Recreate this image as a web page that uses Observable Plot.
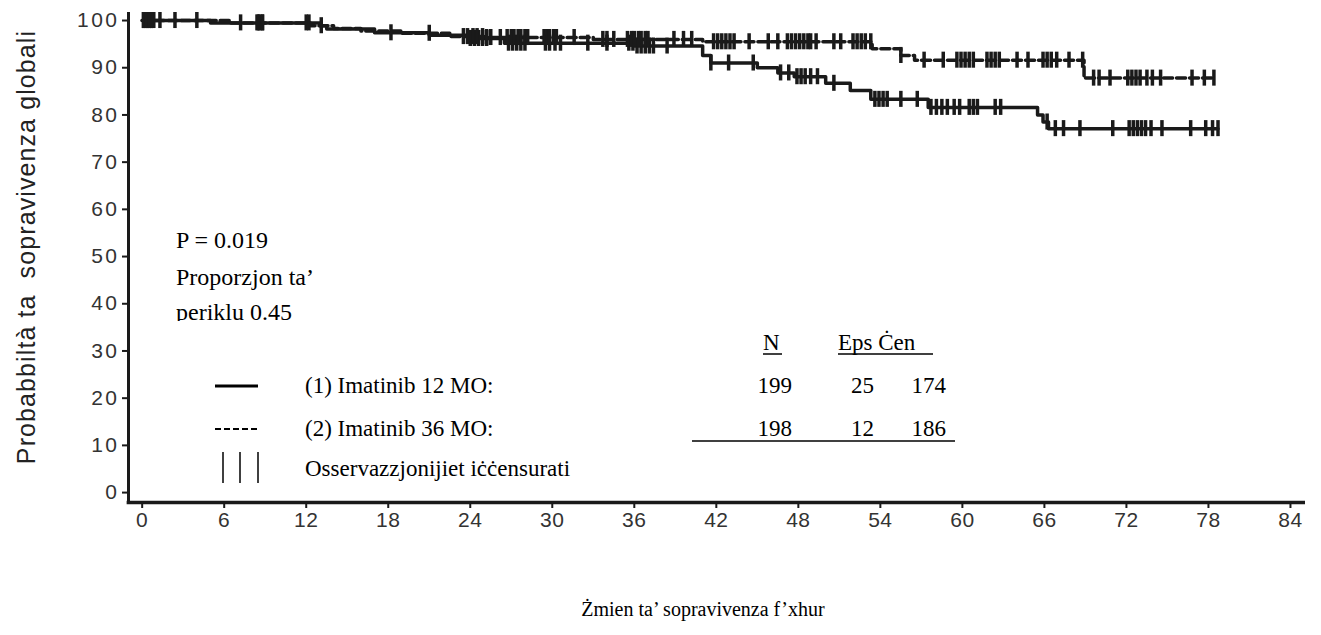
<!DOCTYPE html>
<html><head><meta charset="utf-8">
<script src="https://cdn.jsdelivr.net/npm/d3@7"></script>
<script src="https://cdn.jsdelivr.net/npm/@observablehq/plot@0.6"></script>
<style>
body{margin:0;background:#fff}
#chart{position:relative;width:1321px;height:635px}
#chart svg [aria-label="y-axis tick label"] text{letter-spacing:2.5px}
#chart svg [aria-label="x-axis tick label"] text{letter-spacing:0.5px}
</style>
</head><body><div id="chart"></div>
<script>
// Kaplan-Meier step points (time in months, survival %)
const times12 = [0, 5, 13, 13.5, 17, 21, 24, 26.5, 36, 41, 41.6, 45, 46.5, 47.7, 50, 51.8, 53.3, 57.5, 65.5, 65.9, 66.3];
const surv12  = [100, 99.5, 98.9, 98.2, 97.4, 96.9, 96.2, 95.2, 94.6, 92.6, 91.0, 90.0, 88.9, 88.1, 86.7, 85.2, 83.3, 81.6, 80.0, 78.5, 77.1];
const end12 = 78.7;
const times36 = [0, 6.5, 12.3, 14, 16, 19, 22.5, 25, 33, 41, 53.4, 55.5, 56.5, 68.9];
const surv36  = [100, 99.5, 98.9, 98.3, 97.8, 97.3, 96.6, 96.4, 96.0, 95.5, 94.0, 92.6, 91.6, 87.8];
const end36 = 78.5;
// censored observation times
const cens12 = [0.1,0.25,0.4,0.55,0.7,0.85,1.3,4,8.5,8.8,12.2,18.2,24,24.3,24.6,24.9,25.2,26.8,27.1,27.4,27.7,28,29.5,29.8,30.2,30.6,32.6,34,35.6,35.9,36.2,36.5,36.8,37.1,37.4,38.4,41.6,42.9,44.7,46.7,47.3,47.9,48.2,48.5,48.9,49.4,50.6,53.6,53.9,54.2,54.5,55.5,56.7,57.7,58.1,58.5,58.9,59.4,59.8,60.5,60.8,61.1,62.4,62.8,66.2,66.8,67.4,68.6,71,72.2,72.5,72.8,73.1,73.4,73.8,74.6,76.7,77.8,78.3,78.7];
const cens36 = [0.1,0.3,0.5,0.7,2.4,7.2,8.4,8.6,8.8,12.0,13.1,21,23.5,23.8,24.2,24.5,24.9,25.2,25.5,26.2,26.7,27.0,27.2,27.5,27.7,28.0,28.2,29.4,29.6,29.8,30.1,30.3,31.6,33.7,34.0,34.5,35.5,35.8,36,36.3,36.5,36.8,37,38.9,39.6,40.2,41.8,42.1,42.4,42.7,43,43.3,44.4,45.8,46.5,47.2,47.5,47.8,48.1,48.4,48.7,48.9,49.3,50.6,51.1,52,52.3,52.6,52.9,53.3,55.5,57.2,58.6,59.6,59.9,60.2,60.5,60.8,61.8,62.1,62.4,62.7,64,64.8,65.9,66.2,66.5,66.9,67.8,68.8,69.6,70,70.8,72.1,72.4,72.7,73,73.5,73.9,74.5,76.8,77.7,78.4];
const xTicks = [0,6,12,18,24,30,36,42,48,54,60,66,72,78,84];
const yTicks = [0,10,20,30,40,50,60,70,80,90,100];

const steps = (T, S, end) => T.map((t, i) => ({t, s: S[i]})).concat([{t: end, s: S[S.length - 1]}]);
const surv = (T, S) => t => { let v = S[0]; for (let i = 0; i < T.length; i++) if (T[i] <= t) v = S[i]; return v; };
const S12 = surv(times12, surv12), S36 = surv(times36, surv36);
const ink = "#1a1a1a";
const tickH = 1.7;

const plot = Plot.plot({
  width: 1321, height: 635,
  marginLeft: 128, marginRight: 16, marginTop: 12, marginBottom: 133,
  x: {domain: [-1, 85.1]},
  y: {domain: [-2.1, 101.7]},
  style: {background: "white", fontFamily: "Arial, 'Liberation Sans', sans-serif"},
  marks: [
    Plot.axisY({ticks: yTicks, tickSize: 6, tickPadding: 3, fontSize: 21, label: null, stroke: ink, strokeWidth: 2, fill: "#333"}),
    Plot.axisX({ticks: xTicks, tickSize: 6, tickPadding: 4, fontSize: 21, label: null, stroke: ink, strokeWidth: 2, fill: "#333"}),
    Plot.ruleX([-1], {y1: -2.1, y2: 101.7, stroke: ink, strokeWidth: 3}),
    Plot.ruleY([-2.1], {x1: -1.1, x2: 85.1, stroke: ink, strokeWidth: 3.5}),
    Plot.line(steps(times12, surv12, end12), {x: "t", y: "s", curve: "step-after", stroke: ink, strokeWidth: 3.5}),
    Plot.line(steps(times36, surv36, end36), {x: "t", y: "s", curve: "step-after", stroke: ink, strokeWidth: 3.5, strokeDasharray: "9,4"}),
    Plot.ruleX(cens12, {x: d => d, y1: d => S12(d) - tickH, y2: d => S12(d) + tickH, stroke: ink, strokeWidth: 3.5}),
    Plot.ruleX(cens36, {x: d => d, y1: d => S36(d) - tickH, y2: d => S36(d) + tickH, stroke: ink, strokeWidth: 3.5})
  ]
});
document.getElementById("chart").appendChild(plot);

// annotations
const svg = d3.select(plot);
const serif = "'Liberation Serif', 'Times New Roman', serif";
const g = svg.append("g").attr("font-family", serif).attr("fill", "#000").attr("text-anchor", "start");
svg.append("defs").append("clipPath").attr("id", "clipP").append("rect").attr("x", 0).attr("y", 0).attr("width", 1321).attr("height", 321);
g.append("text").attr("x", 176).attr("y", 248).attr("font-size", 24).text("P = 0.019");
g.append("text").attr("x", 176).attr("y", 285).attr("font-size", 24).text("Proporzjon ta’");
g.append("text").attr("x", 176).attr("y", 320).attr("font-size", 24).attr("clip-path", "url(#clipP)").text("periklu 0.45");

const fs = 23;
g.append("text").attr("x", 763).attr("y", 350).attr("font-size", fs).text("N");
g.append("text").attr("x", 838).attr("y", 350).attr("font-size", fs).text("Eps Ċen");
const lines = g.append("g").attr("stroke", "#000");
lines.append("line").attr("x1", 763).attr("x2", 782).attr("y1", 354).attr("y2", 354).attr("stroke-width", 1.5);
lines.append("line").attr("x1", 838).attr("x2", 933).attr("y1", 354).attr("y2", 354).attr("stroke-width", 1.5);
lines.append("line").attr("x1", 692).attr("x2", 955).attr("y1", 441).attr("y2", 441).attr("stroke-width", 1.5);
lines.append("line").attr("x1", 215).attr("x2", 258).attr("y1", 386).attr("y2", 386).attr("stroke-width", 3);
lines.append("line").attr("x1", 215).attr("x2", 258).attr("y1", 429).attr("y2", 429).attr("stroke-width", 2).attr("stroke-dasharray", "6,3");
[223, 240, 258].forEach(x => lines.append("line").attr("x1", x).attr("x2", x).attr("y1", 452).attr("y2", 483).attr("stroke-width", 1.5));

const rows = [
  {label: "(1) Imatinib 12 MO:", n: "199", e: "25", c: "174", y: 393},
  {label: "(2) Imatinib 36 MO:", n: "198", e: "12", c: "186", y: 436}
];
rows.forEach(r => {
  g.append("text").attr("x", 305).attr("y", r.y).attr("font-size", fs).text(r.label);
  g.append("text").attr("x", 792).attr("y", r.y).attr("font-size", fs).attr("text-anchor", "end").text(r.n);
  g.append("text").attr("x", 874).attr("y", r.y).attr("font-size", fs).attr("text-anchor", "end").text(r.e);
  g.append("text").attr("x", 946).attr("y", r.y).attr("font-size", fs).attr("text-anchor", "end").text(r.c);
});
g.append("text").attr("x", 305).attr("y", 476).attr("font-size", fs).text("Osservazzjonijiet iċċensurati");

// axis titles
svg.append("text").attr("transform", "translate(35,247) rotate(-90)").attr("text-anchor", "middle")
  .attr("font-family", "Arial, 'Liberation Sans', sans-serif").attr("font-size", 25).attr("fill", "#222")
  .attr("letter-spacing", "1.1px").style("white-space", "pre").text("Probabbiltà ta  sopravivenza globali");
svg.append("text").attr("x", 703).attr("y", 616).attr("text-anchor", "middle").attr("font-family", serif)
  .attr("font-size", 20).attr("fill", "#000").text("Żmien ta’ sopravivenza f’xhur");
</script>
</body></html>
